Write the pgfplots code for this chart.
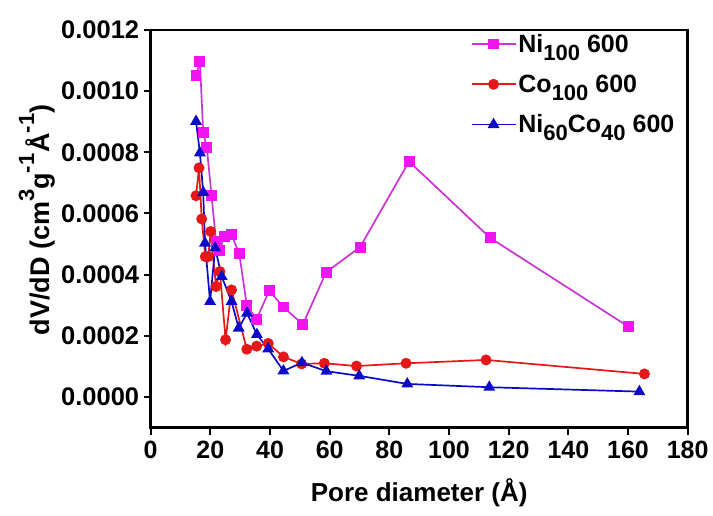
\documentclass[border=0pt]{standalone}
\usepackage{pgfplots}
\pgfplotsset{compat=1.18}
\usepackage{fontspec}
\setmainfont{Liberation Sans}
\definecolor{cmag}{RGB}{204,50,214}
\definecolor{cmagm}{RGB}{240,20,240}
\definecolor{cred}{RGB}{228,24,24}
\definecolor{cblue}{RGB}{10,10,200}
\newcommand\lsub[1]{\raisebox{-0.32em}{\fontsize{22}{22}\selectfont #1}}
\newcommand\lsup[1]{\raisebox{0.55em}{\fontsize{22}{22}\selectfont #1}}
\begin{document}
\begin{tikzpicture}
\begin{axis}[
  scale only axis, width=537pt, height=397.5pt,
  xmin=0, xmax=180, ymin=-0.0001, ymax=0.0012,
  axis line style={line width=2.6pt},
  xtick={0,20,...,180},
  ytick={0,0.0002,0.0004,0.0006,0.0008,0.0010,0.0012},
  yticklabels={0.0000,0.0002,0.0004,0.0006,0.0008,0.0010,0.0012},
  scaled y ticks=false,
  tick align=outside, tick pos=left,
  major tick length=7pt,
  every tick/.style={line width=2pt, black},
  /pgf/number format/assume math mode=true,
  xticklabel style={font=\bfseries\fontsize{25}{25}\selectfont, yshift=-3pt},
  yticklabel style={font=\bfseries\fontsize{25.5}{25.5}\selectfont, xshift=-1pt},
  xlabel={\bfseries\fontsize{26}{26}\selectfont Pore diameter (Å)},
  ylabel={\bfseries\fontsize{27}{27}\selectfont dV/dD (cm\lsup{3}g\lsup{-1}\kern1pt Å\lsup{-1})},
  xlabel style={at={(axis description cs:0.5,-0.165)}, anchor=center},
  ylabel style={at={(axis description cs:-0.212,0.522)}, anchor=center, rotate=0},
  legend style={at={(axis description cs:0.59,1.0)}, anchor=north west, draw=none, fill=none,
    font=\bfseries\fontsize{25}{25}\selectfont, row sep=17pt,
    legend cell align=left},
  legend image code/.code={\draw[mark repeat=2,mark phase=2,#1] plot coordinates {(0pt,0pt) (22pt,0pt) (44pt,0pt)};},
  clip=false,
]
\addplot[color=cmag, line width=1.7pt, mark=square*, mark size=4.6pt, mark options={cmagm, fill=cmagm}] coordinates {
(15.2,0.00105) (16.5,0.001097) (17.6,0.000865) (18.8,0.000817) (20.4,0.000658)
(21.9,0.00051) (23.2,0.00048) (24.6,0.000525) (27.1,0.00053) (29.7,0.000468)
(32.2,0.0003) (35.5,0.000254) (39.7,0.000347) (44.5,0.000294) (51.0,0.000237)
(58.8,0.000408) (70.2,0.00049) (86.6,0.00077) (113.8,0.00052) (160.1,0.00023)
};
\addlegendentry{Ni\lsub{100} 600}
\addplot[color=cred, line width=1.7pt, mark=*, mark size=4.6pt, mark options={cred, fill=cred}] coordinates {
(15.2,0.000658) (16.2,0.000749) (17.1,0.000582) (18.3,0.000459) (19.3,0.000459)
(20.1,0.000541) (21.9,0.000361) (23.2,0.00041) (25.1,0.000187) (27.1,0.00035)
(32.2,0.000156) (35.5,0.000166) (39.4,0.000175) (44.5,0.000131) (50.6,0.000108)
(58.2,0.00011) (69.0,0.000101) (85.6,0.00011) (112.4,0.000121) (165.5,0.0000753)
};
\addlegendentry{Co\lsub{100} 600}
\addplot[color=cblue, line width=1.7pt, mark=triangle*, mark size=5.2pt, mark options={cblue, fill=cblue}] coordinates {
(15.2,0.000901) (16.5,0.000798) (17.6,0.000669) (18.2,0.000503) (19.9,0.000312)
(21.6,0.000487) (23.8,0.000394) (27.1,0.000312) (29.5,0.000225) (32.3,0.000274)
(35.6,0.000204) (39.4,0.000157) (44.5,0.000085) (50.7,0.000112) (58.9,0.000084)
(69.9,0.000069) (86.0,0.0000425) (113.5,0.0000317) (163.8,0.0000174)
};
\addlegendentry{Ni\lsub{60}Co\lsub{40} 600}
\end{axis}
\pgfresetboundingbox
\path (current axis.south west) ++(-150.7pt,-87.5pt) rectangle ++(713pt,515pt);
\end{tikzpicture}
\end{document}
